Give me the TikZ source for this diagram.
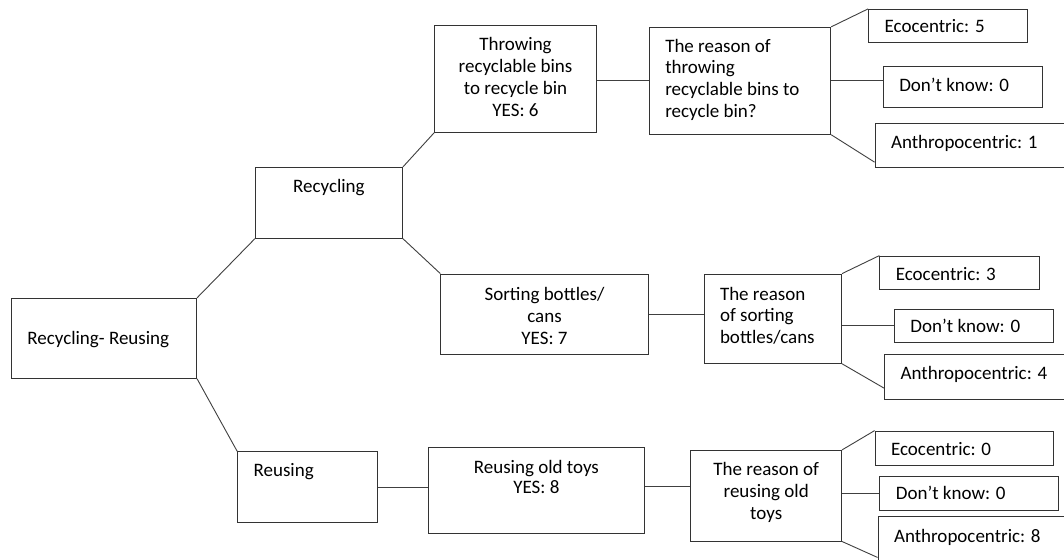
\documentclass[tikz,border=0pt]{standalone}
\usepackage{fontspec}
\setmainfont{Carlito}
\newcommand{\celltext}[4]{\parbox[c][#2][t]{#1}{\vspace*{#3}#4}}
\newcommand{\lft}{\raggedright\leftskip=16pt\relax\strut}
\newcommand{\ctr}{\centering\strut}

\begin{document}
\begin{tikzpicture}[x=1pt,y=-1pt]
\tikzset{cell/.style={draw=black!80, line width=0.9pt, inner sep=0pt, font=\fontsize{19}{21.7}\selectfont}}
\tikzset{link/.style={draw=black!75, line width=0.9pt}}
\useasboundingbox (0,0) rectangle (1064,559);
\fill[white] (0,0) rectangle (1064,559);
\clip (0,0) rectangle (1064,559);
% first and second level
\node[cell] (root) at (104,338.3) {\celltext{185.2pt}{80pt}{31.5pt}{\lft Recycling- Reusing}};
\node[cell] (rec) at (328.9,202.8) {\celltext{147.3pt}{71pt}{10.2pt}{\ctr Recycling}};
\node[cell] (reu) at (307.5,487.2) {\celltext{139.8pt}{71pt}{9.8pt}{\lft Reusing}};
% behaviours
\node[cell] (throw) at (515.5,79) {\celltext{161.8pt}{106.6pt}{10.1pt}{\ctr Throwing\\ recyclable bins\\ to recycle bin\\ YES: 6}};
\node[cell] (sort) at (544.5,314.2) {\celltext{207.4pt}{80.3pt}{11.5pt}{\ctr Sorting bottles/\\ cans\\ YES: 7}};
\node[cell] (toys) at (536.4,490.7) {\celltext{216.8pt}{86pt}{10.4pt}{\ctr Reusing old toys\\[-1.7pt] YES: 8}};
% reasons
\node[cell] (why1) at (740,80.8) {\celltext{181.5pt}{107pt}{9.8pt}{\lft The reason of\\ throwing\\ recyclable bins to\\ recycle bin?}};
\node[cell] (why2) at (772.8,318.7) {\celltext{137.6pt}{89.3pt}{10.8pt}{\lft The reason\\ of sorting\\ bottles/cans}};
\node[cell] (why3) at (766.2,495.7) {\celltext{150.8pt}{90.7pt}{10.2pt}{\ctr The reason of\\ reusing old\\ toys}};
% answers
\node[cell] (eco1) at (948.1,25.8) {\celltext{159pt}{33pt}{8.2pt}{\lft Ecocentric: 5}};
\node[cell] (dk1) at (962.6,86.7) {\celltext{158.7pt}{40.7pt}{10.2pt}{\lft Don’t know: 0}};
\node[cell] (an1) at (975,145.5) {\celltext{200pt}{44.4pt}{10.5pt}{\lft Anthropocentric: 1}};
\node[cell] (eco2) at (959.5,272.7) {\celltext{159.4pt}{33.3pt}{8.8pt}{\lft Ecocentric: 3}};
\node[cell] (dk2) at (974,325.5) {\celltext{159.1pt}{33pt}{8.5pt}{\lft Don’t know: 0}};
\node[cell] (an2) at (984.6,376.7) {\celltext{200pt}{45.3pt}{10.1pt}{\lft Anthropocentric: 4}};
\node[cell] (eco3) at (964.3,448.4) {\celltext{178.5pt}{34.7pt}{8.8pt}{\lft Ecocentric: 0}};
\node[cell] (dk3) at (968.9,493.7) {\celltext{178.1pt}{34pt}{8.1pt}{\lft Don’t know: 0}};
\node[cell] (an3) at (978,539.2) {\celltext{200pt}{45pt}{10.4pt}{\lft Anthropocentric: 8}};
% connectors
\draw[link] (root.north east) -- (rec.south west);
\draw[link] (root.south east) -- (reu.north west);
\draw[link] (rec.north east) -- (throw.south west);
\draw[link] (rec.south east) -- (sort.north west);
\draw[link] (reu.east) -- (reu.east -| toys.west);
\draw[link] (throw.east |- why1.west) -- (why1.west);
\draw[link] (sort.east) -- (sort.east -| why2.west);
\draw[link] ([yshift=4pt]toys.east) -- ([yshift=4pt]toys.east -| why3.west);
\draw[link] (why1.north east) -- (eco1.north west);
\draw[link] (why1.east) -- (why1.east -| dk1.west);
\draw[link] (why1.south east) -- ([yshift=6pt]an1.south west);
\draw[link] (why2.north east) -- (eco2.north west);
\draw[link] (dk2.west -| why2.east) -- (dk2.west);
\draw[link] (why2.south east) -- ([yshift=11.6pt]an2.south west);
\draw[link] (why3.north east) -- (eco3.north west);
\draw[link] (dk3.west -| why3.east) -- (dk3.west);
\draw[link] (why3.south east) -- ([yshift=4.7pt]an3.south west);
\end{tikzpicture}
\end{document}
